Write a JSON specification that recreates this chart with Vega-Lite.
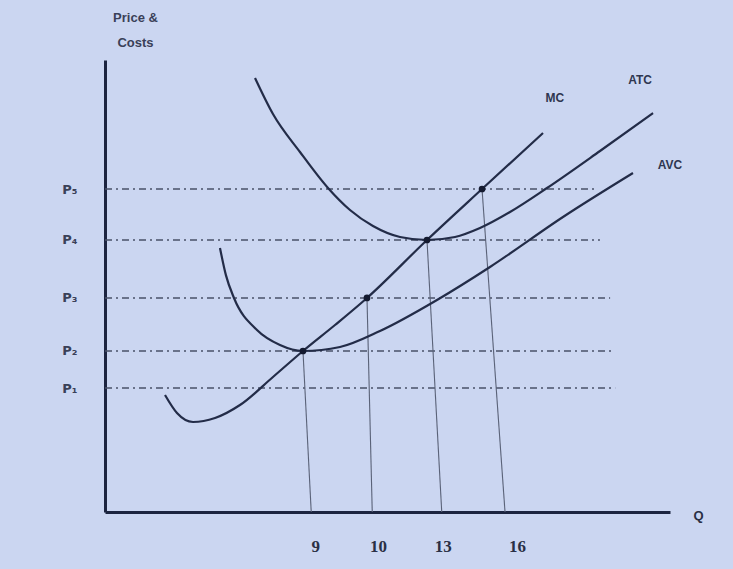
{
  "$schema": "https://vega.github.io/schema/vega-lite/v6.json",
  "width": 565,
  "height": 452,
  "autosize": "none",
  "padding": {"left": 105, "top": 60, "right": 63, "bottom": 57},
  "background": "#cbd6f1",
  "config": {"view": {"stroke": null}},
  "datasets": {
    "prices": [
      {"label": "P₅", "x": 0, "x2": 86.9, "y": 71.46},
      {"label": "P₄", "x": 0, "x2": 87.6, "y": 60.18},
      {"label": "P₃", "x": 0, "x2": 89.4, "y": 47.35},
      {"label": "P₂", "x": 0, "x2": 89.9, "y": 35.62},
      {"label": "P₁", "x": 0, "x2": 90.3, "y": 27.43}
    ],
    "quantities": [
      {"q": "9", "x": 35.04, "y": 35.62, "x2": 36.5},
      {"q": "10", "x": 46.37, "y": 47.35, "x2": 47.3},
      {"q": "13", "x": 56.99, "y": 60.18, "x2": 59.6},
      {"q": "16", "x": 66.73, "y": 71.46, "x2": 70.8}
    ],
    "curves": [
      {"curve": "MC", "x": 10.62, "y": 25.88},
      {"curve": "MC", "x": 12.74, "y": 21.9},
      {"curve": "MC", "x": 15.58, "y": 19.91},
      {"curve": "MC", "x": 19.47, "y": 20.8},
      {"curve": "MC", "x": 23.89, "y": 23.67},
      {"curve": "MC", "x": 29.73, "y": 29.87},
      {"curve": "MC", "x": 35.04, "y": 35.62},
      {"curve": "MC", "x": 40.71, "y": 41.37},
      {"curve": "MC", "x": 46.37, "y": 47.35},
      {"curve": "MC", "x": 56.99, "y": 60.18},
      {"curve": "MC", "x": 66.73, "y": 71.46},
      {"curve": "MC", "x": 77.52, "y": 83.85},
      {"curve": "AVC", "x": 20.35, "y": 58.41},
      {"curve": "AVC", "x": 21.4, "y": 52.4},
      {"curve": "AVC", "x": 22.83, "y": 47.35},
      {"curve": "AVC", "x": 26.9, "y": 40.27},
      {"curve": "AVC", "x": 30.97, "y": 36.95},
      {"curve": "AVC", "x": 35.04, "y": 35.62},
      {"curve": "AVC", "x": 41.59, "y": 36.5},
      {"curve": "AVC", "x": 48.67, "y": 40.04},
      {"curve": "AVC", "x": 58.76, "y": 46.9},
      {"curve": "AVC", "x": 68.14, "y": 54.2},
      {"curve": "AVC", "x": 81.06, "y": 65.27},
      {"curve": "AVC", "x": 93.45, "y": 75.0},
      {"curve": "ATC", "x": 26.55, "y": 96.02},
      {"curve": "ATC", "x": 29.73, "y": 88.05},
      {"curve": "ATC", "x": 34.51, "y": 79.65},
      {"curve": "ATC", "x": 39.47, "y": 71.68},
      {"curve": "ATC", "x": 43.36, "y": 66.81},
      {"curve": "ATC", "x": 47.43, "y": 63.27},
      {"curve": "ATC", "x": 52.21, "y": 60.84},
      {"curve": "ATC", "x": 56.99, "y": 60.18},
      {"curve": "ATC", "x": 61.95, "y": 60.84},
      {"curve": "ATC", "x": 66.37, "y": 62.83},
      {"curve": "ATC", "x": 71.68, "y": 66.37},
      {"curve": "ATC", "x": 78.23, "y": 71.68},
      {"curve": "ATC", "x": 87.61, "y": 79.87},
      {"curve": "ATC", "x": 96.99, "y": 88.27}
    ],
    "curveLabels": [
      {"curve": "MC", "x": 79.6, "y": 91.6},
      {"curve": "ATC", "x": 94.7, "y": 95.6},
      {"curve": "AVC", "x": 100.0, "y": 76.8}
    ]
  },
  "encoding": {
    "x": {
      "field": "x",
      "type": "quantitative",
      "scale": {"domain": [0, 100], "nice": false, "zero": false},
      "axis": {
        "values": [37.2, 48.3, 59.8, 72.9],
        "labelExpr": "datum.value < 40 ? '9' : datum.value < 55 ? '10' : datum.value < 65 ? '13' : '16'",
        "grid": false,
        "ticks": false,
        "domainColor": "#1c2440",
        "domainWidth": 3,
        "labelFont": "Liberation Serif",
        "labelFontWeight": "bold",
        "labelFontSize": 17,
        "labelColor": "#2a3045",
        "labelPadding": 26,
        "title": "Q",
        "titleFont": "Liberation Sans",
        "titleFontWeight": "bold",
        "titleFontSize": 13,
        "titleColor": "#2a3045",
        "titleX": 593,
        "titleY": 3,
        "titleBaseline": "middle",
        "titleAlign": "center"
      }
    },
    "y": {
      "field": "y",
      "type": "quantitative",
      "scale": {"domain": [0, 100], "nice": false, "zero": false},
      "axis": {
        "values": [27.43, 35.62, 47.35, 60.18, 71.46],
        "labelExpr": "datum.value < 30 ? 'P₁' : datum.value < 40 ? 'P₂' : datum.value < 50 ? 'P₃' : datum.value < 65 ? 'P₄' : 'P₅'",
        "grid": false,
        "ticks": false,
        "domainColor": "#1c2440",
        "domainWidth": 3,
        "labelFont": "DejaVu Sans",
        "labelFontWeight": "bold",
        "labelFontSize": 13,
        "labelColor": "#3a4058",
        "labelPadding": 28,
        "title": ["Price &", "Costs"],
        "titleFont": "Liberation Sans",
        "titleFontWeight": "bold",
        "titleFontSize": 13,
        "titleColor": "#3a4058",
        "titleAngle": 0,
        "titleX": 30,
        "titleY": -49,
        "titleBaseline": "top",
        "titleAlign": "center",
        "titleLineHeight": 25
      }
    }
  },
  "layer": [
    {
      "data": {"name": "prices"},
      "mark": {"type": "rule", "strokeDash": [7, 4, 2, 4], "strokeWidth": 1.3, "color": "#4a5268"},
      "encoding": {"x2": {"field": "x2"}}
    },
    {
      "data": {"name": "quantities"},
      "mark": {"type": "rule", "strokeWidth": 1.1, "color": "#5a6278"},
      "encoding": {"x2": {"field": "x2"}, "y2": {"datum": 0}}
    },
    {
      "data": {"name": "curves"},
      "mark": {"type": "line", "interpolate": "monotone", "strokeWidth": 2.2, "color": "#232c48"},
      "encoding": {"detail": {"field": "curve"}}
    },
    {
      "data": {"name": "quantities"},
      "mark": {"type": "circle", "size": 45, "opacity": 1, "color": "#141a30"}
    },
    {
      "data": {"name": "curveLabels"},
      "mark": {"type": "text", "font": "Liberation Sans", "fontWeight": "bold", "fontSize": 12, "color": "#2f3650"},
      "encoding": {"text": {"field": "curve"}}
    }
  ]
}
